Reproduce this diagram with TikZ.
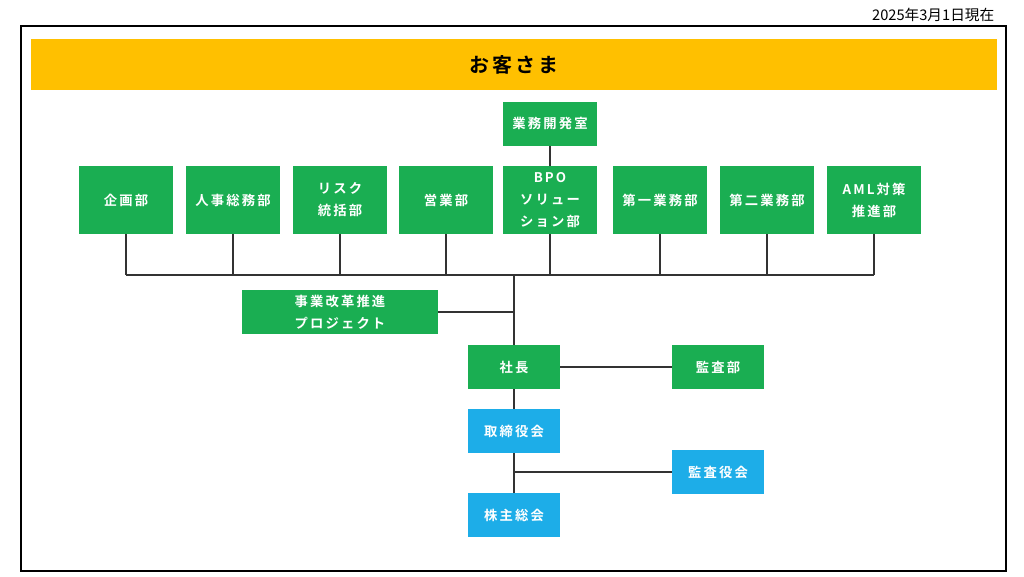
\documentclass[tikz,border=0pt]{standalone}
\usepackage{fontspec}
\newfontfamily\jpfont{Noto Sans CJK JP}[BoldFont=* Bold]
\newfontfamily\jpspaced{Noto Sans CJK JP}[BoldFont=* Bold,LetterSpace=16]
\definecolor{orgyellow}{RGB}{255,192,0}
\definecolor{orggreen}{RGB}{26,174,82}
\definecolor{orgblue}{RGB}{29,173,232}
\definecolor{orgline}{RGB}{51,51,51}

\begin{document}
\begin{tikzpicture}[x=0.75pt,y=-0.75pt,
    unit/.style={fill=orggreen, text=white, font=\jpspaced\bfseries\fontsize{10}{16.5}\selectfont,
        align=center, inner sep=0pt, minimum width=70.5pt, minimum height=51pt},
    small/.style={unit, minimum height=33pt},
    board/.style={small, fill=orgblue, minimum width=69pt},
    link/.style={orgline, line width=1.1pt}]
    \useasboundingbox (0,0) rectangle (1024,576);
    % frame and customer bar
    \draw[line width=1.5pt] (21,26) rectangle (1006,571);
    \node[anchor=east, font=\jpfont\fontsize{11}{13}\selectfont] (date) at (999,15) {2025年3月1日現在};
    \node[fill=orgyellow, minimum width=724.5pt, minimum height=38.25pt,
        font=\jpspaced\bfseries\fontsize{15}{17}\selectfont] (kyaku) at (514,64.5) {\raisebox{-1.5pt}{お客さま}};
    % departments
    \node[small] (gyomu) at (550,123.5) {業務開発室};
    \node[unit] (kikaku) at (126,200) {企画部};
    \node[unit] (jinji) at (233,200) {人事総務部};
    \node[unit] (risk) at (340,200) {リスク\\統括部};
    \node[unit] (eigyo) at (446,200) {営業部};
    \node[unit] (bpo) at (550,200) {BPO\\ソリュー\\ション部};
    \node[unit] (daiichi) at (660,200) {第一業務部};
    \node[unit] (daini) at (767,200) {第二業務部};
    \node[unit] (aml) at (874,200) {AML対策\\推進部};
    % management
    \node[small, minimum width=147pt] (jigyo) at (340,312) {事業改革推進\\プロジェクト};
    \node[small, minimum width=69pt] (shacho) at (514,367) {社長};
    \node[small, minimum width=69pt] (kansa) at (718,367) {監査部};
    \node[board] (torishimari) at (514,431) {取締役会};
    \node[board] (kansayaku) at (718,472) {監査役会};
    \node[board] (kabunushi) at (514,515) {株主総会};
    % connectors
    \coordinate (busL) at (126,275);
    \coordinate (busR) at (874,275);
    \draw[link] (busL) -- (busR);
    \foreach \d in {kikaku,jinji,risk,eigyo,bpo,daiichi,daini,aml}
        \draw[link] (\d.south) -- (\d.south |- busL);
    \draw[link] (gyomu) -- (bpo);
    \draw[link] (shacho.north |- busL) -- (shacho.north);
    \draw[link] (jigyo.east) -- (jigyo.east -| shacho);
    \draw[link] (shacho) -- (kansa);
    \draw[link] (shacho) -- (torishimari);
    \draw[link] (torishimari) -- (kabunushi);
    \draw[link] (kansayaku.west) -- (kansayaku.west -| kabunushi);
\end{tikzpicture}
\end{document}
